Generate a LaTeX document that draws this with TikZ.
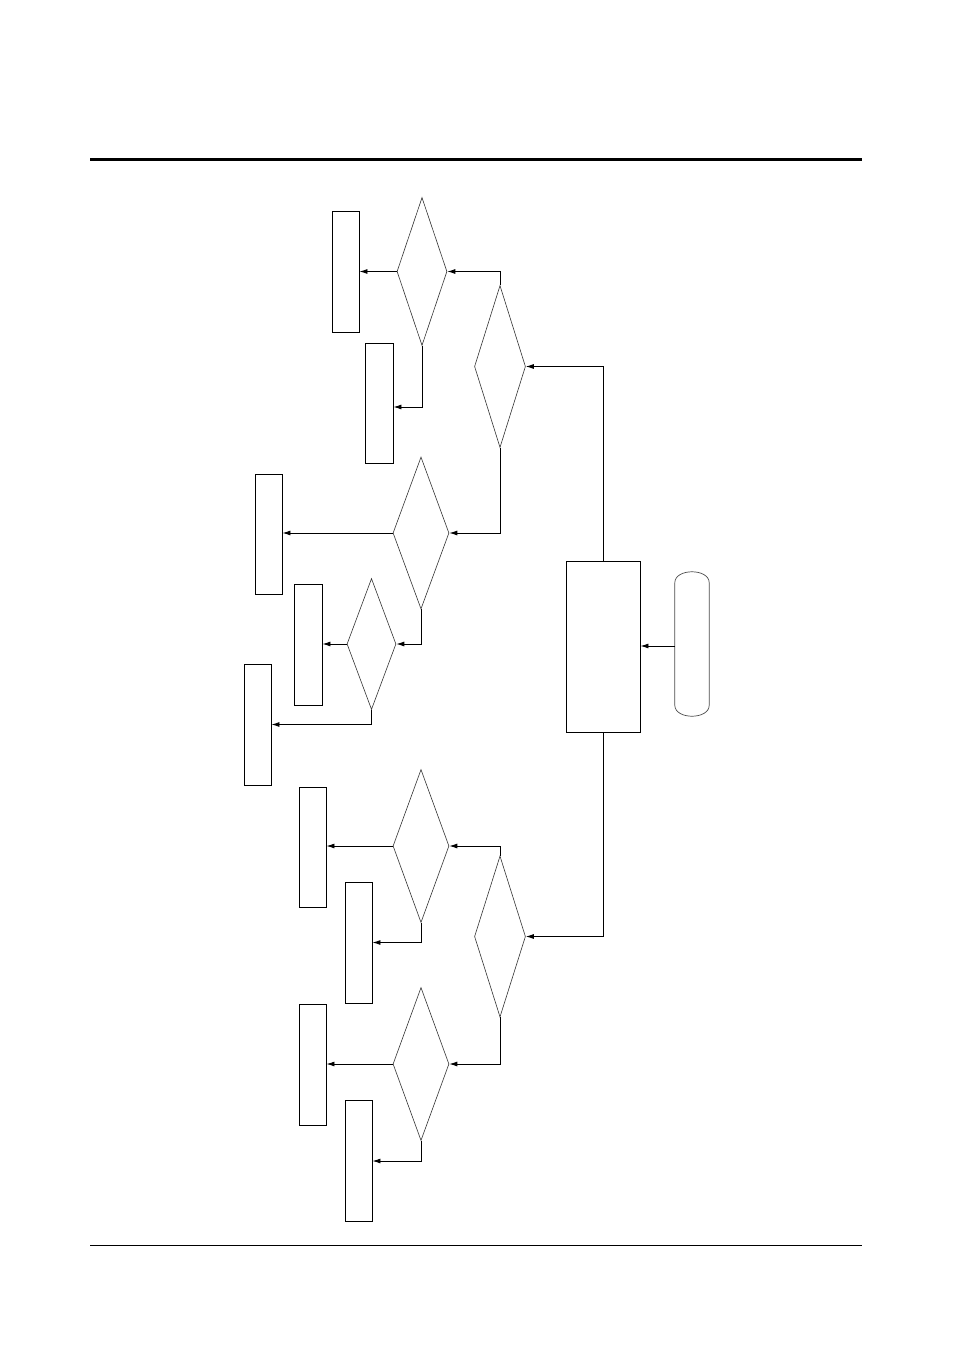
\documentclass[tikz,border=0pt]{standalone}
\usetikzlibrary{shapes.geometric,arrows.meta}
\begin{document}
\begin{tikzpicture}[x=1pt,y=-1pt,
  box/.style={draw,line width=0.9pt,inner sep=0pt,minimum width=27pt,minimum height=121pt},
  dec/.style={draw=black!80,line width=0.6pt,diamond,inner sep=0pt,minimum width=56pt,minimum height=153pt},
  arr/.style={line width=0.9pt,-{Latex[length=8pt,width=5pt]}},
  ln/.style={line width=0.9pt}]
\useasboundingbox (0,0) rectangle (954,1351);
\path[fill=white] (0,0) rectangle (954,1351);
% rules
\coordinate (tl) at (90,159.3);
\coordinate (tr) at (861.5,159.3);
\coordinate (bl) at (90,1245.3);
\coordinate (br) at (861.5,1245.3);
\draw[line width=2.7pt] (tl) -- (tr);
\draw[line width=0.9pt] (bl) -- (br);
% boxes
\node[box] (R1) at (345.5,271.5) {};
\node[box,minimum width=28pt,minimum height=120pt] (R2) at (379,403) {};
\node[box,minimum height=120pt] (R3) at (268.5,534) {};
\node[box,minimum width=28pt] (R4) at (308,644.5) {};
\node[box] (R5) at (257.5,724.5) {};
\node[box,minimum height=120pt] (R6) at (312.5,847) {};
\node[box] (R7) at (358.5,942.5) {};
\node[box] (R8) at (312.5,1064.5) {};
\node[box] (R9) at (358.5,1160.5) {};
\node[box,minimum width=74pt,minimum height=171pt] (M) at (603,646.5) {};
% terminator
\node[inner sep=0pt,minimum width=34pt,minimum height=144pt] (T) at (692,644) {};
\draw[draw=black!70,line width=0.7pt]
  ([yshift=-11pt]T.north west) .. controls ([yshift=3.7pt]T.north west) and ([yshift=3.7pt]T.north east) .. ([yshift=-11pt]T.north east)
  -- ([yshift=11pt]T.south east) .. controls ([yshift=-3.7pt]T.south east) and ([yshift=-3.7pt]T.south west) .. ([yshift=11pt]T.south west)
  -- cycle;
% diamonds
\node[dec,minimum width=50pt,minimum height=148pt] (D1) at (422,271.5) {};
\node[dec,minimum width=51pt,minimum height=162pt] (D2) at (500,366.5) {};
\node[dec,minimum height=152pt] (D3) at (421,533) {};
\node[dec,minimum width=49pt,minimum height=131pt] (D4) at (371.5,644) {};
\node[dec,minimum width=51pt,minimum height=161pt] (D5) at (500,936.5) {};
\node[dec] (D6) at (421,846) {};
\node[dec] (D7) at (421,1064) {};
% connectors upper
\draw[arr] (D1.west) -- (R1.east |- D1.west);
\draw[arr] (D2.north) |- (D1.east);
\draw[arr] (D1.south) |- (R2.east |- 0,407);
\draw[arr] (M.north) |- (D2.east);
\draw[arr] (D2.south) |- (D3.east);
\draw[arr] (D3.west) -- (R3.east |- D3.west);
\draw[arr] (D3.south) |- (D4.east);
\draw[arr] (D4.west) -- (R4.east |- D4.west);
\draw[arr] (D4.south) |- (R5.east);
\draw[arr] (T.west |- 0,646) -- (M.east |- 0,646);
% connectors lower
\draw[arr] (M.south) |- (D5.east);
\draw[arr] (D5.north) |- (D6.east);
\draw[arr] (D6.west) -- (R6.east |- D6.west);
\draw[arr] (D6.south) |- (R7.east);
\draw[arr] (D5.south) |- (D7.east);
\draw[arr] (D7.west) -- (R8.east |- D7.west);
\draw[arr] (D7.south) |- (R9.east |- 0,1161);
\end{tikzpicture}
\end{document}
